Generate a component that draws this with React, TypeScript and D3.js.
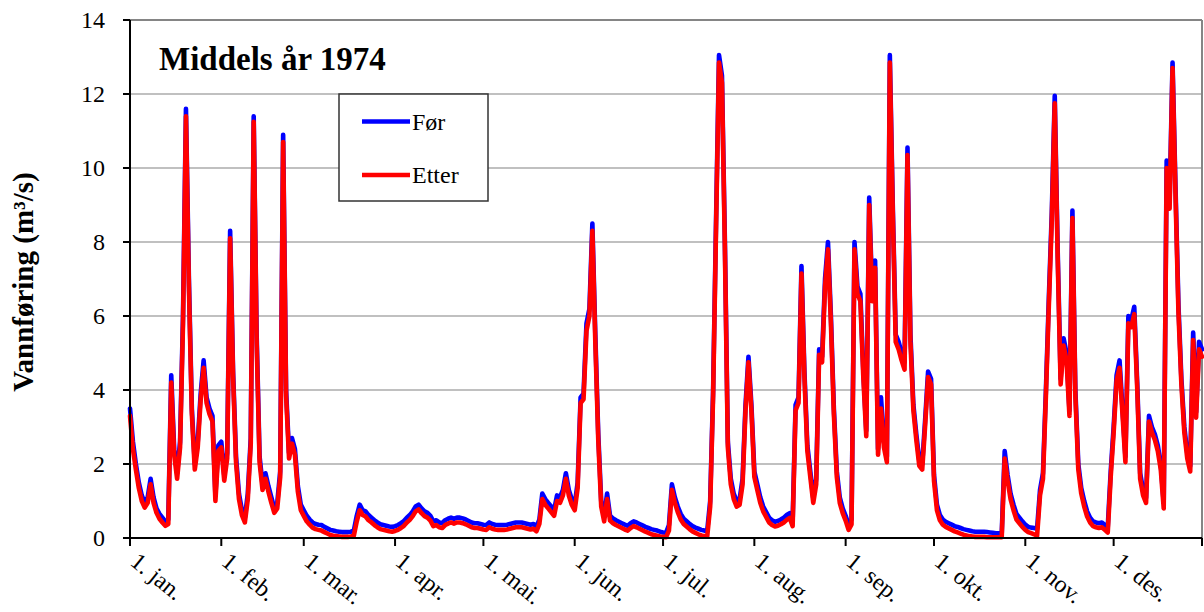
import React from "react";
import * as d3 from "d3";

// Daily discharge (m³/s), "Før" series, one array per month
const forJan = [3.5, 2.6, 2.0, 1.5, 1.15, 0.95, 1.1, 1.6, 1.1, 0.8, 0.65, 0.55, 0.45, 0.5, 4.4, 2.4, 1.75, 2.6, 6.0, 11.6, 7.0, 3.5, 2.0, 2.6, 3.9, 4.8, 3.8, 3.5, 3.3, 1.15, 2.5];
const forFeb = [2.6, 1.7, 2.3, 8.3, 4.5, 2.2, 1.2, 0.75, 0.55, 1.2, 2.7, 11.4, 5.5, 2.2, 1.45, 1.75, 1.4, 1.1, 0.8, 0.95, 1.8, 10.9, 4.0, 2.3, 2.7, 2.4, 1.4, 0.9];
const forMar = [0.75, 0.6, 0.5, 0.42, 0.38, 0.36, 0.35, 0.3, 0.26, 0.22, 0.2, 0.18, 0.17, 0.16, 0.16, 0.16, 0.17, 0.2, 0.6, 0.9, 0.75, 0.72, 0.62, 0.55, 0.48, 0.42, 0.37, 0.35, 0.33, 0.31, 0.3];
const forApr = [0.32, 0.35, 0.4, 0.46, 0.55, 0.62, 0.72, 0.85, 0.9, 0.8, 0.72, 0.68, 0.6, 0.45, 0.48, 0.42, 0.4, 0.48, 0.52, 0.55, 0.52, 0.55, 0.55, 0.53, 0.5, 0.46, 0.42, 0.4, 0.4, 0.38];
const forMai = [0.36, 0.35, 0.42, 0.38, 0.36, 0.35, 0.35, 0.35, 0.36, 0.38, 0.4, 0.42, 0.42, 0.42, 0.4, 0.38, 0.36, 0.38, 0.3, 0.5, 1.2, 1.05, 0.95, 0.85, 0.75, 1.15, 1.1, 1.3, 1.75, 1.3, 1.05];
const forJun = [0.9, 1.5, 3.8, 3.9, 5.8, 6.2, 8.5, 5.5, 2.8, 1.0, 0.6, 1.2, 0.6, 0.53, 0.48, 0.44, 0.4, 0.36, 0.33, 0.4, 0.45, 0.42, 0.38, 0.34, 0.3, 0.27, 0.24, 0.22, 0.2, 0.17];
const forJul = [0.15, 0.14, 0.35, 1.45, 1.1, 0.85, 0.65, 0.52, 0.45, 0.38, 0.32, 0.28, 0.25, 0.22, 0.2, 0.2, 1.0, 4.0, 8.6, 13.05, 12.5, 8.0, 2.6, 1.6, 1.2, 1.0, 1.05, 1.6, 3.6, 4.9, 3.6];
const forAug = [1.8, 1.45, 1.1, 0.85, 0.7, 0.55, 0.48, 0.44, 0.46, 0.5, 0.55, 0.62, 0.67, 0.45, 3.6, 3.8, 7.35, 4.5, 2.5, 1.8, 1.08, 1.6, 5.1, 4.9, 7.0, 8.0, 6.0, 3.5, 1.8, 1.1, 0.8];
const forSep = [0.6, 0.35, 0.5, 8.0, 6.8, 6.6, 4.5, 2.9, 9.2, 6.6, 7.5, 2.4, 3.8, 2.6, 2.2, 13.05, 9.0, 5.5, 5.3, 5.0, 4.75, 10.55, 5.5, 3.6, 2.8, 2.1, 2.0, 3.2, 4.5, 4.3];
const forOkt = [1.7, 0.9, 0.62, 0.5, 0.44, 0.4, 0.36, 0.32, 0.3, 0.27, 0.24, 0.22, 0.2, 0.18, 0.17, 0.17, 0.17, 0.17, 0.16, 0.15, 0.14, 0.13, 0.13, 0.13, 2.35, 1.7, 1.2, 0.9, 0.65, 0.55, 0.45];
const forNov = [0.36, 0.3, 0.28, 0.27, 0.25, 1.3, 1.75, 4.0, 6.5, 8.8, 11.95, 7.75, 4.3, 5.4, 5.0, 3.45, 8.85, 4.0, 2.0, 1.35, 1.0, 0.72, 0.55, 0.45, 0.42, 0.4, 0.42, 0.35, 0.3, 1.8];
const forDes = [3.0, 4.4, 4.8, 3.5, 2.2, 6.0, 5.9, 6.25, 4.2, 1.75, 1.3, 1.08, 3.3, 3.0, 2.8, 2.5, 2.0, 0.95, 10.2, 9.1, 12.85, 9.5, 6.3, 4.3, 3.0, 2.3, 1.95, 5.55, 3.4, 5.3, 5.1];

// Daily discharge (m³/s), "Etter" series, one array per month
const etterJan = [3.3, 2.4, 1.85, 1.35, 1.0, 0.82, 0.95, 1.45, 0.95, 0.68, 0.52, 0.42, 0.33, 0.38, 4.2, 2.25, 1.6, 2.45, 5.8, 11.4, 6.8, 3.35, 1.85, 2.45, 3.75, 4.6, 3.65, 3.35, 3.15, 1.0, 2.35];
const etterFeb = [2.45, 1.55, 2.15, 8.1, 4.35, 2.05, 1.05, 0.62, 0.42, 1.05, 2.55, 11.25, 5.3, 2.05, 1.3, 1.6, 1.25, 0.95, 0.68, 0.8, 1.65, 10.7, 3.85, 2.15, 2.55, 2.25, 1.25, 0.75];
const etterMar = [0.6, 0.45, 0.36, 0.28, 0.24, 0.22, 0.2, 0.16, 0.12, 0.08, 0.06, 0.05, 0.04, 0.03, 0.03, 0.03, 0.04, 0.06, 0.45, 0.75, 0.62, 0.58, 0.48, 0.42, 0.35, 0.29, 0.24, 0.22, 0.2, 0.18, 0.17];
const etterApr = [0.19, 0.22, 0.27, 0.33, 0.42, 0.49, 0.59, 0.72, 0.77, 0.67, 0.59, 0.55, 0.47, 0.32, 0.35, 0.29, 0.27, 0.35, 0.39, 0.42, 0.39, 0.42, 0.42, 0.4, 0.37, 0.33, 0.29, 0.27, 0.27, 0.25];
const etterMai = [0.23, 0.22, 0.29, 0.25, 0.23, 0.22, 0.22, 0.22, 0.23, 0.25, 0.27, 0.29, 0.29, 0.29, 0.27, 0.25, 0.23, 0.25, 0.18, 0.38, 1.05, 0.9, 0.8, 0.7, 0.6, 1.0, 0.95, 1.15, 1.6, 1.15, 0.9];
const etterJun = [0.75, 1.35, 3.65, 3.75, 5.6, 6.0, 8.3, 5.3, 2.65, 0.85, 0.45, 1.05, 0.47, 0.4, 0.35, 0.31, 0.27, 0.23, 0.2, 0.27, 0.32, 0.29, 0.25, 0.21, 0.17, 0.14, 0.1, 0.08, 0.06, 0.04];
const etterJul = [0.03, 0.02, 0.2, 1.3, 0.95, 0.7, 0.5, 0.38, 0.31, 0.24, 0.18, 0.14, 0.1, 0.07, 0.05, 0.05, 0.85, 3.85, 8.4, 12.85, 12.3, 7.8, 2.45, 1.45, 1.05, 0.85, 0.9, 1.45, 3.45, 4.75, 3.45];
const etterAug = [1.65, 1.3, 0.95, 0.72, 0.57, 0.42, 0.35, 0.31, 0.33, 0.37, 0.42, 0.49, 0.54, 0.32, 3.45, 3.65, 7.15, 4.35, 2.35, 1.65, 0.95, 1.45, 4.95, 4.75, 6.8, 7.8, 5.8, 3.35, 1.65, 0.95, 0.67];
const etterSep = [0.47, 0.22, 0.37, 7.8, 6.6, 6.4, 4.35, 2.75, 9.0, 6.4, 7.3, 2.25, 3.5, 2.45, 2.05, 12.85, 8.8, 5.3, 5.1, 4.8, 4.55, 10.35, 5.3, 3.45, 2.65, 1.95, 1.85, 3.05, 4.35, 4.15];
const etterOkt = [1.55, 0.75, 0.48, 0.36, 0.3, 0.26, 0.22, 0.18, 0.15, 0.12, 0.09, 0.07, 0.05, 0.04, 0.03, 0.03, 0.03, 0.03, 0.02, 0.02, 0.02, 0.02, 0.02, 0.02, 2.15, 1.55, 1.05, 0.75, 0.5, 0.4, 0.3];
const etterNov = [0.22, 0.16, 0.13, 0.1, 0.06, 1.15, 1.6, 3.85, 6.3, 8.6, 11.75, 7.55, 4.15, 5.2, 4.8, 3.3, 8.65, 3.85, 1.85, 1.2, 0.85, 0.58, 0.42, 0.32, 0.29, 0.27, 0.29, 0.22, 0.15, 1.65];
const etterDes = [2.85, 4.25, 4.6, 3.35, 2.05, 5.8, 5.7, 6.05, 4.05, 1.6, 1.15, 0.95, 3.15, 2.85, 2.65, 2.35, 1.85, 0.8, 10.0, 8.9, 12.7, 9.3, 6.1, 4.15, 2.85, 2.15, 1.8, 5.35, 3.25, 5.1, 4.9];

const monthLabels = ["1. jan.", "1. feb.", "1. mar.", "1. apr.", "1. mai.", "1. jun.", "1. jul.", "1. aug.", "1. sep.", "1. okt.", "1. nov.", "1. des."];
const yTicks = [0, 2, 4, 6, 8, 10, 12, 14];

const forMonths = [forJan, forFeb, forMar, forApr, forMai, forJun, forJul, forAug, forSep, forOkt, forNov, forDes];
const etterMonths = [etterJan, etterFeb, etterMar, etterApr, etterMai, etterJun, etterJul, etterAug, etterSep, etterOkt, etterNov, etterDes];

const seriesFor = forMonths.flat();
const seriesEtter = etterMonths.flat();

// first day index of every month
const monthStarts: number[] = [];
{
  let acc = 0;
  for (const m of forMonths) {
    monthStarts.push(acc);
    acc += m.length;
  }
}
const lastDay = seriesFor.length - 1;

const W = 1204;
const H = 612;
const plot = { left: 130, right: 1202, top: 20, bottom: 538 };
const FONT = '"Liberation Serif", "Times New Roman", serif';
const ts = { fontFamily: FONT };

export default function App() {
  const x = d3.scaleLinear().domain([0, lastDay]).range([plot.left, plot.right]);
  const y = d3.scaleLinear().domain([0, 14]).range([plot.bottom, plot.top]);

  const line = d3
    .line<number>()
    .x((_, i) => x(i))
    .y((d) => y(d))
    .curve(d3.curveLinear);

  const pathFor = line(seriesFor) ?? "";
  const pathEtter = line(seriesEtter) ?? "";

  const tickDays = [...monthStarts, lastDay];
  const legend = { x: 339, y: 94, w: 149, h: 107 };

  return (
    <svg
      width={W}
      height={H}
      viewBox={`0 0 ${W} ${H}`}
      style={{ position: "absolute", left: 0, top: 0, background: "#fff", fontFamily: FONT }}
    >
      <rect x={0} y={0} width={W} height={H} fill="#fff" />

      {/* horizontal gridlines */}
      {yTicks
        .filter((t) => t > 0 && t < 14)
        .map((t) => (
          <line key={`g${t}`} x1={plot.left} x2={plot.right} y1={y(t)} y2={y(t)} stroke="#ababab" strokeWidth={1.4} />
        ))}

      {/* plot frame: top and right */}
      <line x1={plot.left} x2={plot.right} y1={plot.top} y2={plot.top} stroke="#858585" strokeWidth={2} />
      <line x1={plot.right} x2={plot.right} y1={plot.top} y2={plot.bottom} stroke="#858585" strokeWidth={2} />

      {/* series */}
      <path d={pathFor} fill="none" stroke="#0000ff" strokeWidth={4.6} strokeLinejoin="round" strokeLinecap="round" />
      <path d={pathEtter} fill="none" stroke="#ff0000" strokeWidth={4.6} strokeLinejoin="round" strokeLinecap="round" />

      {/* axes */}
      <line x1={plot.left} x2={plot.left} y1={plot.top} y2={plot.bottom} stroke="#000" strokeWidth={2} />
      <line x1={plot.left} x2={plot.right} y1={plot.bottom} y2={plot.bottom} stroke="#000" strokeWidth={2} />

      {/* y ticks and labels */}
      {yTicks.map((t) => (
        <g key={`y${t}`}>
          <line x1={plot.left - 7} x2={plot.left} y1={y(t)} y2={y(t)} stroke="#000" strokeWidth={2} />
          <text x={105} y={y(t)} dy="0.35em" textAnchor="end" fontSize={24} fill="#000" style={ts}>
            {t}
          </text>
        </g>
      ))}

      {/* x ticks */}
      {tickDays.map((d, i) => (
        <line key={`xt${i}`} x1={x(d)} x2={x(d)} y1={plot.bottom} y2={plot.bottom + 8} stroke="#000" strokeWidth={2} />
      ))}

      {/* x labels */}
      {monthLabels.map((lab, i) => (
        <text
          key={`xl${i}`}
          transform={`translate(${x(monthStarts[i]) - 1},${564}) rotate(39)`}
          textAnchor="start"
          fontSize={24}
          fill="#000"
          style={ts}
        >
          {lab}
        </text>
      ))}

      {/* y axis title */}
      <text
        transform={`translate(33,${282}) rotate(-90)`}
        textAnchor="middle"
        fontSize={29}
        fontWeight="bold"
        fill="#000"
        style={ts}
      >
        Vannføring (m³/s)
      </text>

      {/* chart title */}
      <text x={159} y={70} fontSize={33} fontWeight="bold" fill="#000" style={ts}>
        Middels år 1974
      </text>

      {/* legend */}
      <rect x={legend.x} y={legend.y} width={legend.w} height={legend.h} fill="#fff" stroke="#333" strokeWidth={1.5} />
      <line x1={362} x2={410} y1={121.5} y2={121.5} stroke="#0000ff" strokeWidth={4.6} />
      <text x={412} y={129.5} fontSize={24} fill="#000" style={ts}>
        Før
      </text>
      <line x1={362} x2={410} y1={175} y2={175} stroke="#ff0000" strokeWidth={4.6} />
      <text x={412} y={183} fontSize={24} fill="#000" style={ts}>
        Etter
      </text>
    </svg>
  );
}
